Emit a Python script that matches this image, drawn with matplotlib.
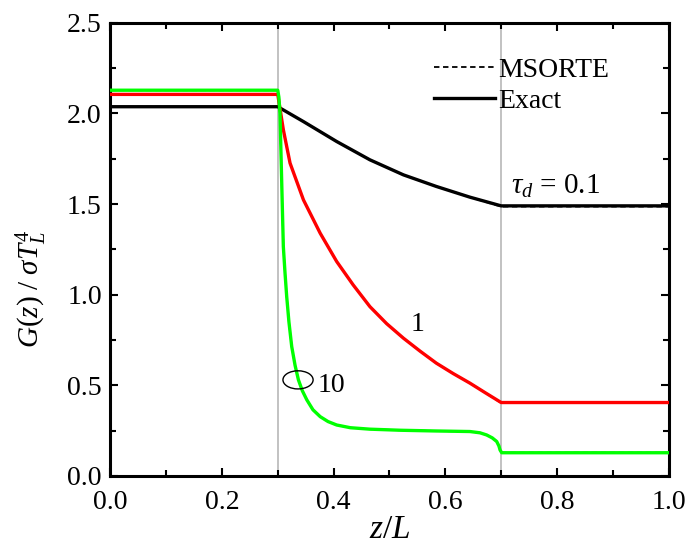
import matplotlib
matplotlib.use("Agg")
import matplotlib.pyplot as plt
from matplotlib.patches import Ellipse
from matplotlib.ticker import MultipleLocator, FormatStrFormatter

plt.rcParams['font.family'] = ['Liberation Serif', 'DejaVu Serif']
plt.rcParams['mathtext.fontset'] = 'custom'
plt.rcParams['mathtext.rm'] = 'Liberation Serif'
plt.rcParams['mathtext.it'] = 'Liberation Serif:italic'

# Incident radiation profiles, tau_d = 0.1
z_01 = [0.0, 0.3, 0.346, 0.4055, 0.465, 0.525, 0.584, 0.644, 0.7, 1.0]
g_01 = [2.037, 2.037, 1.955, 1.845, 1.744, 1.661, 1.597, 1.538, 1.49, 1.49]

# tau_d = 1
z_1 = [0.0, 0.3, 0.310, 0.322, 0.346, 0.376, 0.4055, 0.435, 0.465, 0.495,
       0.525, 0.555, 0.584, 0.614, 0.644, 0.672, 0.7, 1.0]
g_1 = [2.105, 2.105, 1.91, 1.726, 1.523, 1.339, 1.183, 1.054, 0.934, 0.84,
       0.76, 0.688, 0.622, 0.565, 0.512, 0.458, 0.405, 0.405]

# tau_d = 10
z_10 = [0.0, 0.3, 0.302, 0.304, 0.307, 0.310, 0.313, 0.316, 0.320, 0.325,
        0.331, 0.337, 0.344, 0.352, 0.363, 0.376, 0.39, 0.4055, 0.43, 0.465,
        0.52, 0.584, 0.644, 0.662, 0.674, 0.684, 0.692, 0.696, 0.698, 0.701,
        1.0]
g_10 = [2.128, 2.128, 2.09, 2.0, 1.63, 1.265, 1.12, 0.99, 0.85, 0.714,
        0.61, 0.53, 0.47, 0.42, 0.365, 0.327, 0.30, 0.281, 0.266, 0.258,
        0.252, 0.248, 0.245, 0.238, 0.226, 0.21, 0.19, 0.165, 0.143, 0.128,
        0.128]

# MSORTE solutions
m_01 = [2.037, 2.037, 1.955, 1.845, 1.744, 1.661, 1.597, 1.538, 1.485, 1.485]
m_1 = [2.105, 2.105, 1.91, 1.726, 1.523, 1.339, 1.183, 1.054, 0.934, 0.84,
       0.76, 0.688, 0.622, 0.565, 0.512, 0.458, 0.402, 0.402]
m_10 = [2.128, 2.128, 2.09, 2.0, 1.63, 1.265, 1.12, 0.99, 0.85, 0.714,
        0.61, 0.53, 0.47, 0.42, 0.365, 0.327, 0.30, 0.281, 0.266, 0.258,
        0.252, 0.248, 0.245, 0.238, 0.226, 0.21, 0.19, 0.165, 0.143, 0.128,
        0.128]

interfaces = [0.3, 0.7]

fig = plt.figure(figsize=(6.93, 5.56), dpi=100)
ax = fig.add_axes([0.159, 0.144, 0.806, 0.815])

for xv in interfaces:
    ax.axvline(xv, color='#b8b8b8', lw=1.2, zorder=1)

ax.plot(z_01, m_01, color='#555555', lw=1.3, ls=(0, (3, 2)), zorder=2)
ax.plot(z_1, m_1, color='#cc0000', lw=1.3, ls=(0, (3, 2)), zorder=2)
ax.plot(z_10, m_10, color='#00aa00', lw=1.3, ls=(0, (3, 2)), zorder=2)

ax.plot(z_01, g_01, color='black', lw=2.4, zorder=3, solid_joinstyle='round')
ax.plot(z_1, g_1, color='#ff0000', lw=2.4, zorder=3, solid_joinstyle='round')
ax.plot(z_10, g_10, color='#00ff00', lw=2.4, zorder=3, solid_joinstyle='round')

# legend handles
h1, = ax.plot([], [], color='black', lw=1.3, ls=(0, (3, 2)))
h2, = ax.plot([], [], color='black', lw=2.4)
ax.legend([h1, h2], ['MSORTE', 'Exact'], loc='upper left',
          bbox_to_anchor=(0.545, 0.966), frameon=False, fontsize=20,
          handlelength=2.2, handletextpad=0.1, labelspacing=0.2,
          borderpad=0.2)

ax.text(0.718, 1.555, r'$\tau_d$ = 0.1', fontsize=21)
ax.text(0.538, 0.80, '1', fontsize=20)
ax.text(0.372, 0.465, '10', fontsize=20)
ax.add_patch(Ellipse((0.3363, 0.53), 0.054, 0.1, fill=False, ec='black',
                     lw=1.0, zorder=4))

ax.set_xlim(0, 1.0)
ax.set_ylim(0, 2.5)
ax.xaxis.set_major_locator(MultipleLocator(0.2))
ax.xaxis.set_minor_locator(MultipleLocator(0.1))
ax.yaxis.set_major_locator(MultipleLocator(0.5))
ax.yaxis.set_minor_locator(MultipleLocator(0.25))
ax.xaxis.set_major_formatter(FormatStrFormatter('%.1f'))
ax.yaxis.set_major_formatter(FormatStrFormatter('%.1f'))
ax.tick_params(which='both', direction='in', top=True, right=True,
               labelsize=20, width=1.5)
ax.tick_params(which='major', length=6)
ax.tick_params(axis='x', which='major', pad=10)
ax.tick_params(axis='y', which='major', pad=6)
ax.tick_params(which='minor', length=4)
for s in ax.spines.values():
    s.set_linewidth(2.2)

ax.set_xlabel(r'$z/L$', fontsize=24, labelpad=0)
ax.set_ylabel(r'$G(z)\ /\ \sigma T_L^4$', fontsize=21)
ax.yaxis.set_label_coords(-0.11, 0.413)

fig.savefig('out.png', dpi=100)
